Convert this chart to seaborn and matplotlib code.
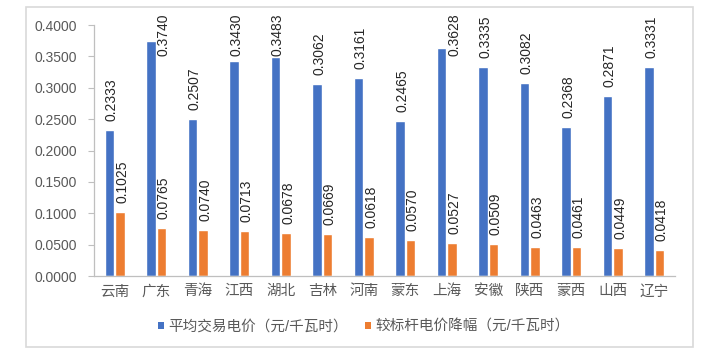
import matplotlib
matplotlib.use("Agg")
import matplotlib.pyplot as plt
import seaborn as sns
import pandas as pd
from matplotlib.patches import Patch, Rectangle

categories = ["云南", "广东", "青海", "江西", "湖北", "吉林", "河南", "蒙东", "上海", "安徽", "陕西", "蒙西", "山西", "辽宁"]
avg_price = [0.2333, 0.3740, 0.2507, 0.3430, 0.3483, 0.3062, 0.3161, 0.2465, 0.3628, 0.3335, 0.3082, 0.2368, 0.2871, 0.3331]
drop = [0.1025, 0.0765, 0.0740, 0.0713, 0.0678, 0.0669, 0.0618, 0.0570, 0.0527, 0.0509, 0.0463, 0.0461, 0.0449, 0.0418]
series_names = ["平均交易电价（元/千瓦时）", "较标杆电价降幅（元/千瓦时）"]
yticks = [0.0, 0.05, 0.10, 0.15, 0.20, 0.25, 0.30, 0.35, 0.40]

colors = ["#4472C4", "#ED7D31"]

df = pd.DataFrame({
    "cat": categories * 2,
    "val": avg_price + drop,
    "series": [series_names[0]] * len(categories) + [series_names[1]] * len(categories),
})

sns.set_theme(style="white")
plt.rcParams["font.family"] = ["Liberation Sans", "Noto Sans CJK SC", "DejaVu Sans"]

fig = plt.figure(figsize=(7.09, 3.57), dpi=100)
fig.patch.set_facecolor("white")
# outer chart border
fig.add_artist(Rectangle((26 / 709, 1 - 347 / 357), (693 - 26) / 709, (347 - 7) / 357,
                         transform=fig.transFigure, fill=False, edgecolor="#D9D9D9", linewidth=1.2))

ax = fig.add_axes([94 / 709, 1 - 276 / 357, (675 - 94) / 709, (276 - 25) / 357])
sns.barplot(data=df, x="cat", y="val", hue="series", palette=colors, width=0.5,
            dodge=True, ax=ax, legend=False, saturation=1, gap=0.08)

ax.set_ylim(0, 0.4)
ax.set_xlim(-0.5, len(categories) - 0.5)
ax.set_yticks(yticks)
ax.set_yticklabels([f"{t:.4f}" for t in yticks], color="#595959", fontsize=10)
ax.tick_params(axis="y", length=4, width=0.8, color="#BFBFBF", pad=8, direction="out", left=True)
ax.tick_params(axis="x", length=0, pad=6)
for lbl in ax.get_xticklabels():
    lbl.set_color("#595959")
    lbl.set_fontsize(10.5)
ax.set_xlabel("")
ax.set_ylabel("")
for s in ["top", "right"]:
    ax.spines[s].set_visible(False)
for s in ["left", "bottom"]:
    ax.spines[s].set_color("#BFBFBF")
    ax.spines[s].set_linewidth(0.9)

# data labels
px_per_unit = (276 - 25) / 0.4
off = 9 / px_per_unit
L = 43 / px_per_unit
cap = 0.419
for ci, cont in enumerate(ax.containers):
    for bar in cont:
        v = bar.get_height()
        xc = bar.get_x() + bar.get_width() / 2
        text = f"{v:.4f}"
        if v + off + L <= cap:
            ax.annotate(text, (xc, v + off), xytext=(1.5, 0), textcoords="offset points",
                        rotation=90, ha="center", va="bottom", fontsize=10,
                        color="#262626", annotation_clip=False)
        else:
            dx = 1.5
            if cap - L < v:
                dx = 1.5 + 10.5 * 0.72
            ax.annotate(text, (xc, cap), xytext=(dx, 0), textcoords="offset points",
                        rotation=90, ha="center", va="top", fontsize=10,
                        color="#262626", annotation_clip=False)

handles = [Patch(facecolor=c, edgecolor="none") for c in colors]
fig.legend(handles, series_names, loc="center", bbox_to_anchor=(0.513, 1 - 327 / 357),
           ncol=2, frameon=False, handlelength=0.4, handleheight=0.4, handletextpad=0.3,
           columnspacing=1.2, prop={"size": 10.5}, labelcolor="#595959")

fig.savefig("out.png", dpi=100, facecolor="white")
